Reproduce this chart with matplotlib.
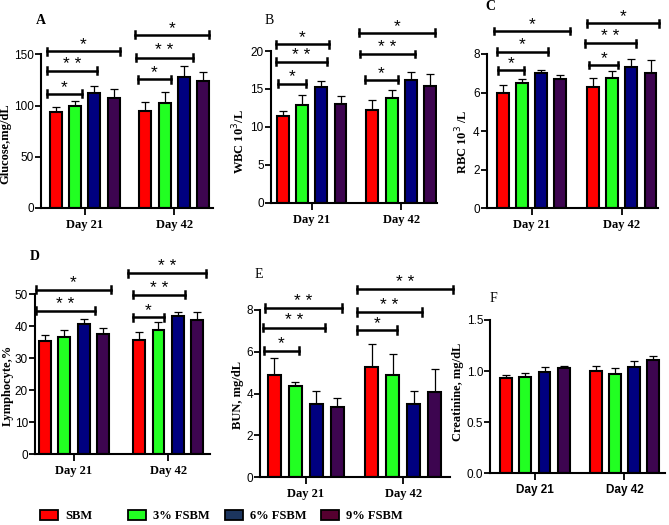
import matplotlib
matplotlib.use("Agg")
import matplotlib.pyplot as plt
from matplotlib.patches import Rectangle

# data
groups = ['Day 21', 'Day 42']
series = ['SBM', '3% FSBM', '6% FSBM', '9% FSBM']
bar_colors = ['#ff0000', '#22ff22', '#000080', '#3d0550']
legend_colors = ['#ff0000', '#22ff22', '#1c355e', '#550030']

glucose = [[94, 100, 112, 107], [95, 102, 128, 124]]
glucose_err = [[5, 4.6, 7, 8.7], [8.6, 11, 10.5, 9]]
wbc = [[11.4, 12.9, 15.3, 13.05], [12.2, 13.8, 16.2, 15.4]]
wbc_err = [[0.7, 1.3, 0.8, 1.05], [1.4, 1.1, 1.0, 1.6]]
rbc = [[5.96, 6.48, 7.0, 6.68], [6.29, 6.74, 7.34, 7.03]]
rbc_err = [[0.44, 0.2, 0.18, 0.22], [0.45, 0.39, 0.4, 0.66]]
lymph = [[35.4, 36.6, 40.6, 37.7], [35.8, 38.9, 43.3, 41.9]]
lymph_err = [[1.9, 2.3, 1.6, 1.7], [2.3, 2.35, 1.3, 2.6]]
bun = [[4.88, 4.38, 3.49, 3.38], [5.27, 4.88, 3.49, 4.08]]
bun_err = [[0.84, 0.19, 0.65, 0.4], [1.12, 1.02, 0.65, 1.12]]
creat = [[0.936, 0.946, 0.994, 1.027], [1.004, 0.971, 1.037, 1.105]]
creat_err = [[0.026, 0.032, 0.046, 0.026], [0.049, 0.063, 0.062, 0.039]]

# significance brackets: (group, start, end, height, label)
glucose_sig = [(0, -0.47, 1.35, 111.5, '*'), (0, -0.47, 2.14, 134, '**'), (0, -0.47, 3.33, 153, '*'),
               (1, -0.39, 1.33, 125.5, '*'), (1, -0.49, 2.47, 146.8, '**'), (1, -0.55, 3.31, 169, '*')]
wbc_sig = [(0, -0.25, 1.21, 15.7, '*'), (0, -0.35, 2.3, 18.6, '**'), (0, -0.35, 2.4, 20.9, '*'),
           (1, -0.38, 1.33, 16.2, '*'), (1, -0.64, 2.22, 19.6, '**'), (1, -0.7, 3.26, 22.4, '*')]
rbc_sig = [(0, -0.26, 1.1, 7.15, '*'), (0, -0.31, 2.36, 8.12, '*'), (0, -0.47, 3.5, 9.19, '*'),
           (1, -0.21, 1.31, 7.43, '*'), (1, -0.42, 2.25, 8.55, '**'), (1, -0.31, 3.46, 9.6, '*')]
lymph_sig = [(0, -0.47, 2.59, 44.8, '**'), (0, -0.47, 3.42, 51.5, '*'),
             (1, -0.33, 1.28, 42.8, '*'), (1, -0.33, 2.37, 49.8, '**'), (1, -0.59, 3.46, 56.6, '**')]
bun_sig = [(0, -0.5, 1.17, 6.06, '*'), (0, -0.55, 2.4, 7.16, '**'), (0, -0.45, 3.21, 8.1, '**'),
           (1, -0.71, 1.2, 7.04, '*'), (1, -0.71, 2.39, 7.9, '**'), (1, -0.71, 3.86, 8.99, '**')]

W, H = 669, 525
fig = plt.figure(figsize=(W / 100, H / 100), dpi=100)
serif = 'Liberation Serif'
sans = 'Liberation Sans'


def panel(box, letter, letter_xy, letter_bold, means, errs, sig, gap, xlim, yticks, ylabel,
          label_y, xfont, pad=2):
    l, r, b, t = box
    ax = fig.add_axes([l / W, 1 - b / H, (r - l) / W, (b - t) / H])
    for g in range(2):
        for i in range(4):
            x = g * gap + i
            ax.bar(x, means[g][i], width=0.62, color=bar_colors[i], edgecolor='black',
                   linewidth=1.5, zorder=2)
            ax.errorbar(x, means[g][i], yerr=[[0], [errs[g][i]]], color='black', lw=0.9,
                        capsize=3, capthick=0.9, zorder=1)
    yr = yticks[-1]
    for g, x0, x1, y, lab in sig:
        x0 += g * gap
        x1 += g * gap
        ax.plot([x0, x1], [y, y], color='black', lw=1.8, clip_on=False)
        cap = yr * 0.022
        for xx in (x0, x1):
            ax.plot([xx, xx], [y - cap, y + cap], color='black', lw=1.8, clip_on=False)
        ax.annotate(' '.join(lab), ((x0 + x1) / 2, y), xytext=(0, 1.5), textcoords='offset points',
                    ha='center', va='baseline', fontsize=12.5, family=sans, annotation_clip=False)
    ax.set_xlim(xlim)
    ax.set_ylim(0, yr)
    ax.set_yticks(yticks)
    ax.set_xticks([g * gap + 1.5 for g in range(2)])
    ax.set_xticklabels(groups)
    for lab in ax.get_yticklabels():
        lab.set_family(sans)
        lab.set_fontsize(8.5)
    for lab in ax.get_xticklabels():
        lab.set_family(serif if xfont == 'serif' else sans)
        lab.set_fontweight('bold')
        lab.set_fontsize(9 if xfont == 'serif' else 8.5)
    ax.tick_params(axis='y', length=4, width=1.3, pad=1)
    ax.tick_params(axis='x', length=5, width=1.3, pad=3)
    ax.spines[['top', 'right']].set_visible(False)
    ax.spines[['left', 'bottom']].set_linewidth(1.5)
    ax.set_ylabel(ylabel, family=serif, fontweight='bold', fontsize=9, labelpad=pad)
    ax.yaxis.label.set_y(label_y)
    fig.text(letter_xy[0] / W, 1 - letter_xy[1] / H, letter, family=serif,
             fontweight='bold' if letter_bold else 'normal', fontsize=10, ha='left', va='center')
    return ax


panel((41, 213, 208, 54.3), 'A', (36, 20), True, glucose, glucose_err, glucose_sig, 4.66,
      (-0.78, 8.18), [0, 50, 100, 150], 'Glucose,mg/dL', 0.42, 'serif')
panel((270.7, 436.7, 202.7, 51), 'B', (265, 21), False, wbc, wbc_err, wbc_sig, 4.66,
      (-0.63, 8.0), [0, 5, 10, 15, 20], 'WBC 10$^{3}$/L', 0.4, 'serif')
panel((486.7, 658, 208.3, 54), 'C', (485, 7), True, rbc, rbc_err, rbc_sig, 4.71,
      (-0.85, 8.1), [0, 2, 4, 6, 8], 'RBC 10$^{3}$ /L', 0.43, 'serif')
panel((35, 210, 454.3, 294.3), 'D', (30, 257), True, lymph, lymph_err, lymph_sig, 4.88,
      (-0.52, 8.55), [0, 10, 20, 30, 40, 50], 'Lymphocyte,%', 0.43, 'serif', pad=1)
panel((260, 450, 477.3, 310), 'E', (255, 275), False, bun, bun_err, bun_sig, 4.64,
      (-0.69, 8.36), [0, 2, 4, 6, 8], 'BUN, mg/dL', 0.49, 'serif')
panel((490, 665, 473.3, 320), 'F', (490, 298), False, creat, creat_err, [], 4.68,
      (-0.85, 8.3), [0.0, 0.5, 1.0, 1.5], 'Creatinine, mg/dL', 0.53, 'sans')

# legend along the bottom, one entry per series
legend_x = [40, 128, 225, 321]
for i, name in enumerate(series):
    h = Rectangle((0, 0), 1, 1, facecolor=legend_colors[i], edgecolor='black', linewidth=1.3)
    fig.legend(handles=[h], labels=[name], loc='center left',
               bbox_to_anchor=(legend_x[i] / W, 1 - 516 / H), frameon=False,
               handlelength=1.4, handleheight=0.9, handletextpad=0.6, borderpad=0, borderaxespad=0,
               prop={'family': serif, 'weight': 'bold', 'size': 9})

fig.savefig('out.png', dpi=100)
